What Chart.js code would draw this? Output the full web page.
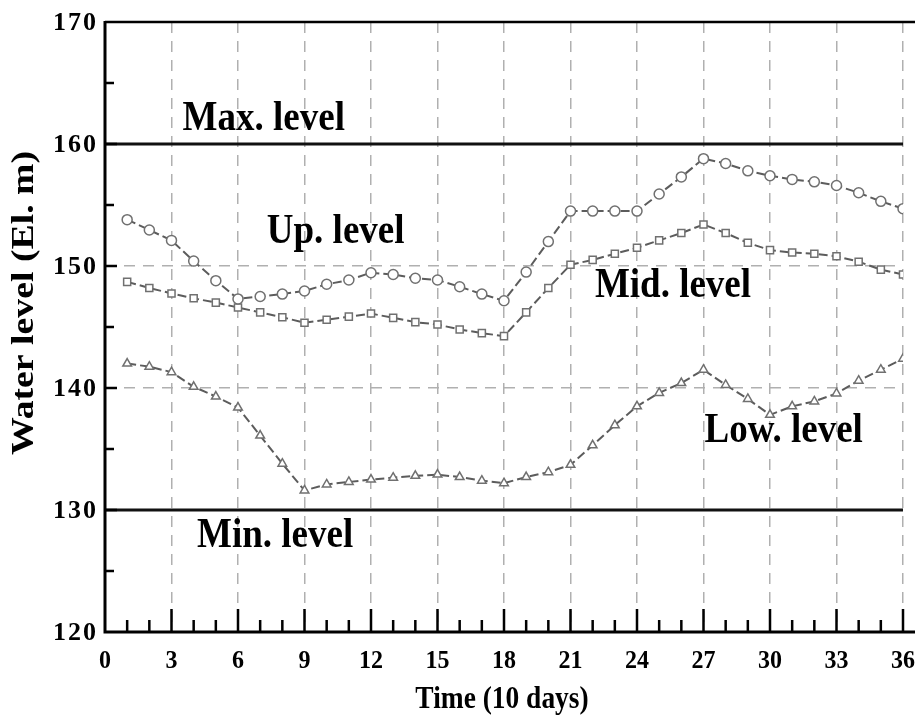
<!DOCTYPE html>
<html>
<head>
<meta charset="utf-8">
<script src="https://cdn.jsdelivr.net/npm/chart.js@4"></script>
<style>
  html, body { margin: 0; padding: 0; background: #fff; }
</style>
</head>
<body>
<canvas id="myChart" width="915" height="715"></canvas>
<script>
const time = [1, 2, 3, 4, 5, 6, 7, 8, 9, 10, 11, 12, 13, 14, 15, 16, 17, 18,
              19, 20, 21, 22, 23, 24, 25, 26, 27, 28, 29, 30, 31, 32, 33, 34, 35, 36]
const upLevel = [153.8, 152.95, 152.1, 150.4, 148.8, 147.3, 147.5, 147.7, 147.95, 148.5, 148.85, 149.45,
                 149.3, 149.0, 148.85, 148.3, 147.7, 147.15, 149.5, 152.0, 154.5, 154.5, 154.5, 154.5,
                 155.9, 157.3, 158.8, 158.4, 157.8, 157.4, 157.1, 156.9, 156.6, 156.0, 155.3, 154.7]
const midLevel = [148.7, 148.2, 147.75, 147.35, 147.0, 146.6, 146.2, 145.8, 145.35, 145.6, 145.85, 146.1,
                  145.75, 145.4, 145.2, 144.8, 144.5, 144.25, 146.2, 148.2, 150.1, 150.5, 151.0, 151.5,
                  152.1, 152.7, 153.4, 152.7, 151.9, 151.3, 151.1, 151.0, 150.8, 150.35, 149.7, 149.3]
const lowLevel = [142.0, 141.75, 141.3, 140.1, 139.3, 138.4, 136.1, 133.8, 131.6, 132.1, 132.3, 132.5,
                  132.65, 132.8, 132.9, 132.7, 132.4, 132.2, 132.7, 133.1, 133.7, 135.3, 136.95, 138.5,
                  139.6, 140.4, 141.5, 140.25, 139.1, 137.8, 138.5, 138.9, 139.55, 140.6, 141.5, 142.4]
const limitX = [0, 36]
const maxLevel = [160, 160]
const minLevel = [130, 130]
const xTicks = [0, 3, 6, 9, 12, 15, 18, 21, 24, 27, 30, 33, 36]
const yTicks = [120, 130, 140, 150, 160, 170]

const serif = '"Liberation Serif", "DejaVu Serif", serif'
const pts = (xs, ys) => xs.map((v, i) => ({x: v, y: ys[i]}))

function series(label, values, style) {
    return {
        label: label,
        data: pts(time, values),
        borderColor: '#5c5c5c',
        borderWidth: 2,
        borderDash: [9, 4],
        pointStyle: style,
        pointRadius: 5,
        pointBackgroundColor: '#fff',
        pointBorderColor: '#707070',
        pointBorderWidth: 1.5,
        tension: 0
    }
}

function limit(label, values) {
    return {
        label: label,
        data: pts(limitX, values),
        borderColor: '#111',
        borderWidth: 3,
        pointRadius: 0,
        tension: 0
    }
}

function text(ctx, str, px, py, size, sx, sy, align) {
    ctx.save()
    ctx.translate(px, py)
    ctx.scale(sx, sy)
    ctx.font = 'bold ' + size + 'px ' + serif
    ctx.textAlign = align
    ctx.textBaseline = 'alphabetic'
    ctx.fillText(str, 0, 0)
    ctx.restore()
}

const overlay = {
    id: 'overlay',
    afterDraw(chart) {
        const {ctx, chartArea: a, scales: {x, y}} = chart
        ctx.save()
        ctx.strokeStyle = '#000'
        ctx.fillStyle = '#000'
        ctx.lineCap = 'butt'

        // frame: top border, left and bottom axes
        ctx.lineWidth = 2.5
        ctx.beginPath()
        ctx.moveTo(a.left, a.top)
        ctx.lineTo(chart.width, a.top)
        ctx.stroke()
        ctx.lineWidth = 3
        ctx.beginPath()
        ctx.moveTo(a.left, a.top - 1)
        ctx.lineTo(a.left, a.bottom)
        ctx.lineTo(chart.width, a.bottom)
        ctx.stroke()

        // inward ticks
        ctx.lineWidth = 2.5
        ctx.beginPath()
        for (let v = 1; v <= 36; v++) {
            const px = x.getPixelForValue(v)
            const len = v % 3 === 0 ? 23 : 12
            ctx.moveTo(px, a.bottom)
            ctx.lineTo(px, a.bottom - len)
        }
        for (let v = 125; v < 170; v += 5) {
            const py = y.getPixelForValue(v)
            const len = v % 10 === 0 ? 12 : 9
            ctx.moveTo(a.left, py)
            ctx.lineTo(a.left + len, py)
        }
        ctx.stroke()

        // tick labels
        ctx.letterSpacing = '2px'
        yTicks.forEach(v => text(ctx, String(v), 98, y.getPixelForValue(v) + 8, 26, 1, 1, 'right'))
        ctx.letterSpacing = '0px'
        xTicks.forEach(v => text(ctx, String(v), x.getPixelForValue(v), 668, 24, 1, 1.05, 'center'))

        // axis titles
        text(ctx, 'Time (10 days)', 502, 708, 28, 0.98, 1.1, 'center')
        ctx.save()
        ctx.translate(33, 303)
        ctx.rotate(-Math.PI / 2)
        text(ctx, 'Water level (El. m)', 0, 0, 32, 1.18, 1, 'center')
        ctx.restore()

        // level annotations
        const notes = [
            ['Max. level', 3.5, 161.15],
            ['Up. level', 7.3, 151.9],
            ['Mid. level', 22.1, 147.45],
            ['Low. level', 27.05, 135.55],
            ['Min. level', 4.15, 127.0]
        ]
        notes.forEach(n => text(ctx, n[0], x.getPixelForValue(n[1]), y.getPixelForValue(n[2]), 37, 1, 1.15, 'left'))
        ctx.restore()
    }
}

const config = {
    type: 'line',
    data: {
        datasets: [
            limit('Max. level', maxLevel),
            limit('Min. level', minLevel),
            series('Up. level', upLevel, 'circle'),
            series('Mid. level', midLevel, 'rect'),
            series('Low. level', lowLevel, 'triangle')
        ]
    },
    options: {
        responsive: false,
        animation: false,
        layout: {padding: {left: 105, right: 12, top: 22, bottom: 83}},
        plugins: {legend: {display: false}, tooltip: {enabled: false}},
        scales: {
            x: {
                type: 'linear',
                min: 0,
                max: 36,
                ticks: {display: false, stepSize: 3},
                grid: {
                    drawTicks: false,
                    lineWidth: 1.5,
                    color: c => c.tick && c.tick.value > 0 ? '#b0b0b0' : 'rgba(0,0,0,0)'
                },
                border: {display: false, dash: [11, 8]}
            },
            y: {
                min: 120,
                max: 170,
                ticks: {display: false, stepSize: 10},
                grid: {
                    drawTicks: false,
                    lineWidth: 1.5,
                    color: c => c.tick && (c.tick.value === 140 || c.tick.value === 150) ? '#b0b0b0' : 'rgba(0,0,0,0)'
                },
                border: {display: false, dash: [11, 8]}
            }
        }
    },
    plugins: [overlay]
}

var myChart = new Chart(document.getElementById('myChart'), config)
</script>
</body>
</html>
